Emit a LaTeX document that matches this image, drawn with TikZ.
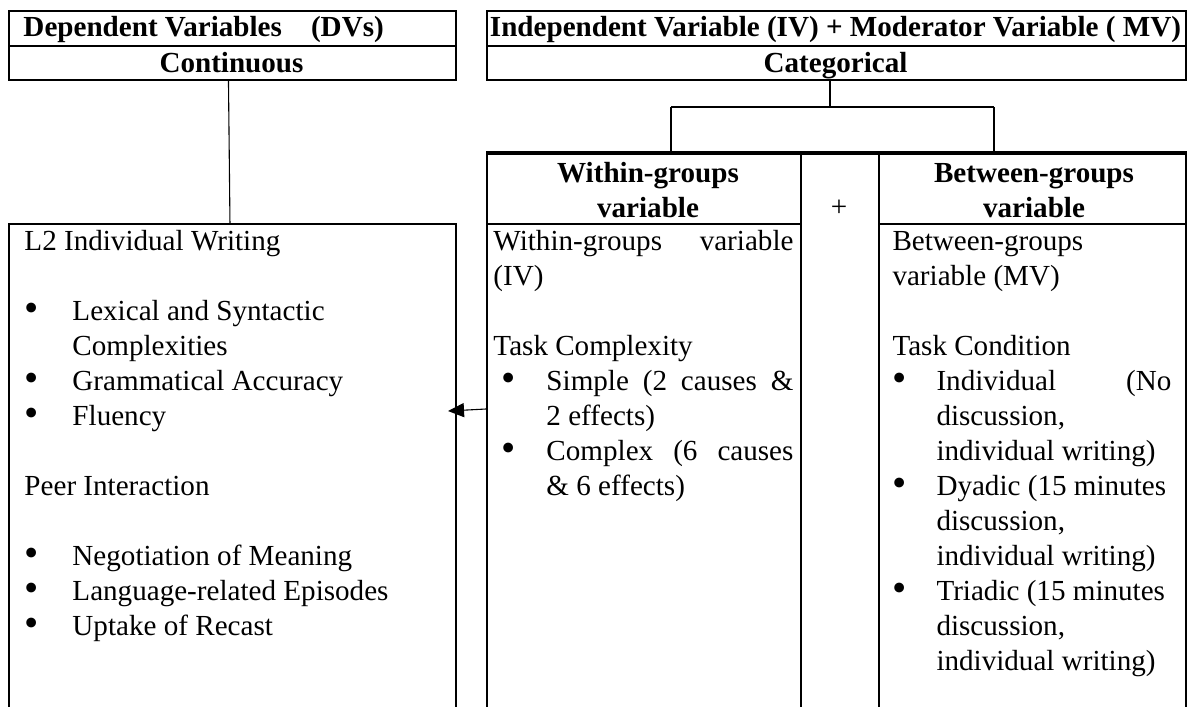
\documentclass[tikz,border=0pt]{standalone}
\usepackage{fontspec}
\setmainfont{Liberation Serif}
\usetikzlibrary{arrows.meta}

% one drawing unit
\newdimen\pxu \pxu=0.4123pt
% list bullet and helpers for bulleted / justified lines
\newcommand\bul{\smash{\raisebox{-0.5pt}{\scalebox{1.4}{\textbullet}}}}
\newcommand\jl[2]{\makebox[#1][s]{#2}}

\tikzset{
  box/.style={draw, line width=0.8pt, inner sep=0pt, anchor=north west},
  conn/.style={draw, line width=0.45pt},
  txt/.style={inner sep=0pt, font=\fontsize{12}{35\pxu}\selectfont},
}

\begin{document}
\begin{tikzpicture}[x=\pxu, y=-\pxu]
\useasboundingbox (0,0) rectangle (1189,706);
\fill[white] (0,0) rectangle (1189,706);
\clip (0,0) rectangle (1189,706);

% ---- header boxes
\node[box, minimum width=447\pxu, minimum height=35\pxu] (dvtitle) at (8,10) {};
\node[box, minimum width=447\pxu, minimum height=34\pxu] (dvtype) at (8,45) {};
\node[box, minimum width=699\pxu, minimum height=35\pxu] (ivtitle) at (486,10) {};
\node[box, minimum width=699\pxu, minimum height=34\pxu] (ivtype) at (486,45) {};

\node[txt, anchor=base west] (dvlabel) at (23,37) {\bfseries Dependent Variables\ \ \ \ (DVs)};
\node[txt, anchor=base] (dvkind) at (231.5,72) {\bfseries Continuous};
\node[txt, anchor=base] (ivlabel) at (835.5,37) {\bfseries Independent Variable (IV) + Moderator Variable ( MV)};
\node[txt, anchor=base] (ivkind) at (835.5,72) {\bfseries Categorical};

% ---- outcome box (open at the bottom)
\node[box, minimum width=447\pxu, minimum height=520\pxu] (l2box) at (8,223) {};

% ---- design table
\node[box, minimum width=314\pxu, minimum height=70\pxu] (wgh) at (486,153) {};
\node[box, minimum width=78\pxu, minimum height=590\pxu] (plus) at (800,153) {};
\node[box, minimum width=307\pxu, minimum height=70\pxu] (bgh) at (878,153) {};
\node[box, minimum width=314\pxu, minimum height=520\pxu] (wgb) at (486,223) {};
\node[box, minimum width=307\pxu, minimum height=520\pxu] (bgb) at (878,223) {};
\draw[line width=1.3pt] (wgh.north west) -- (bgh.north east);

\node[txt, anchor=base] (wgtitle) at (648,182)
  {\bfseries\begin{tabular}[t]{@{}c@{}}Within-groups\\ variable\end{tabular}};
\node[txt, anchor=base] (plussign) at (839,216) {+};
\node[txt, anchor=base] (bgtitle) at (1034,182)
  {\bfseries\begin{tabular}[t]{@{}c@{}}Between-groups\\ variable\end{tabular}};

% ---- cell texts
\node[txt, anchor=base west] (l2text) at (24,250) {\begin{tabular}[t]{@{}l@{}}
L2 Individual Writing\\
\\
\makebox[48\pxu][l]{\bul}Lexical and Syntactic\\
\hspace*{48\pxu}Complexities\\
\makebox[48\pxu][l]{\bul}Grammatical Accuracy\\
\makebox[48\pxu][l]{\bul}Fluency\\
\\
Peer Interaction\\
\\
\makebox[48\pxu][l]{\bul}Negotiation of Meaning\\
\makebox[48\pxu][l]{\bul}Language-related Episodes\\
\makebox[48\pxu][l]{\bul}Uptake of Recast
\end{tabular}};

\node[txt, anchor=base west] (wgtext) at (493,250) {\begin{tabular}[t]{@{}l@{}}
\jl{300\pxu}{Within-groups variable}\\
(IV)\\
\\
Task Complexity\\
\makebox[53\pxu][l]{\hspace*{8\pxu}\bul}\jl{247\pxu}{Simple (2 causes \&}\\
\hspace*{53\pxu}2 effects)\\
\makebox[53\pxu][l]{\hspace*{8\pxu}\bul}\jl{247\pxu}{Complex (6 causes}\\
\hspace*{53\pxu}\& 6 effects)
\end{tabular}};

\node[txt, anchor=base west] (bgtext) at (892,250) {\begin{tabular}[t]{@{}l@{}}
Between-groups\\
variable (MV)\\
\\
Task Condition\\
\makebox[44\pxu][l]{\bul}\jl{235\pxu}{Individual (No}\\
\hspace*{44\pxu}discussion,\\
\hspace*{44\pxu}individual writing)\\
\makebox[44\pxu][l]{\bul}Dyadic (15 minutes\\
\hspace*{44\pxu}discussion,\\
\hspace*{44\pxu}individual writing)\\
\makebox[44\pxu][l]{\bul}Triadic (15 minutes\\
\hspace*{44\pxu}discussion,\\
\hspace*{44\pxu}individual writing)
\end{tabular}};

% ---- connectors
\draw[conn] ([xshift=-4\pxu]dvtype.south) -- ([xshift=-2.5\pxu]l2box.north);

\coordinate (jn) at (830,107);
\coordinate (brL) at (671,107);
\coordinate (brR) at (994,107);
\draw[conn] (ivtype.south -| jn) -- (jn);
\draw[conn] (brL) -- (brR);
\draw[conn] (brL) -- (brL |- wgh.north);
\draw[conn] (brR) -- (brR |- bgh.north);

\coordinate (arrtip) at (448,411);
\draw[conn, -{Triangle[length=6.6pt, width=5.8pt]}] (wgb.west |- 0,409) -- (arrtip);
\end{tikzpicture}
\end{document}
